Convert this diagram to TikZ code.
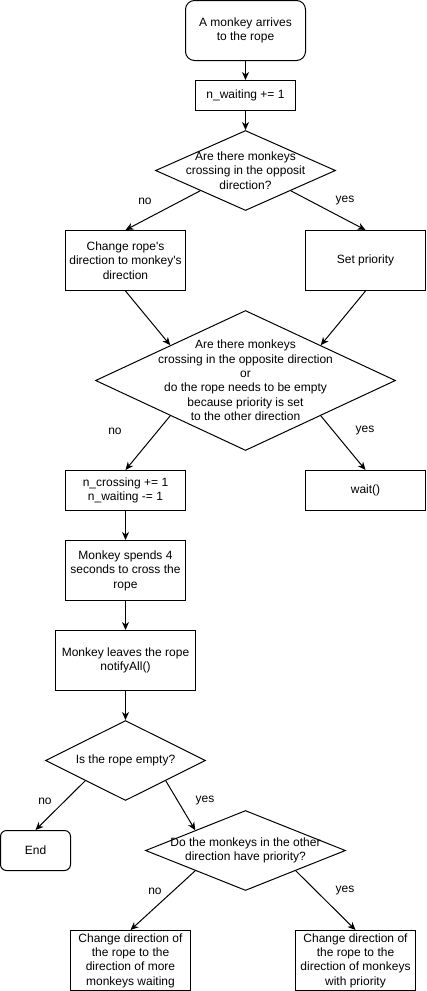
\documentclass[tikz,border=0pt]{standalone}
\usepackage{fontspec}
\setmainfont{Liberation Sans}[Ligatures=TeXOff]
\usetikzlibrary{shapes, positioning, arrows.meta, calc}

\tikzset{
  process/.style={draw, rectangle, minimum width=120pt, minimum height=60pt, align=center, inner xsep=2pt, inner ysep=0pt},
  terminal/.style={process, rounded corners=9pt},
  decision/.style={draw, diamond, inner sep=0pt},
  answer/.style={inner sep=0pt},
}

\begin{document}
\begin{tikzpicture}[x=1pt, y=-1pt, line width=1pt, >={Stealth[length=8pt, width=7pt, inset=2.5pt]}, font=\fontsize{12}{14.4}\selectfont]
\useasboundingbox (0,0) rectangle (426,991);
\node (start) at (245.5,30.5) [terminal] {A monkey arrives\\to the rope};
\node (inc) at (245.5,95.5) [process, minimum width=100pt, minimum height=30pt] {n\_waiting += 1};
\node (q1) at (245.5,170.5) [decision, minimum width=180pt, minimum height=80pt] {};
\node (q1t) at (q1) [align=center] {Are there monkeys\\crossing in the opposit\\direction?};
\node (chg) at (125.5,260.5) [process] {Change rope's\\direction to monkey's\\direction};
\node (prio) at (365.5,260.5) [process] {Set priority};
\node (q2) at (245.5,380.5) [decision, minimum width=300pt, minimum height=140pt] {};
\node (q2t) at (q2) [align=center] {Are there monkeys\\crossing in the opposite direction\\or\\do the rope needs to be empty\\because priority is set\\to the other direction};
\node (cross) at (125.5,490.5) [process, minimum height=40pt] {n\_crossing += 1\\n\_waiting -= 1};
\node (wait) at (365.5,490.5) [process, minimum height=40pt] {wait()};
\node (spend) at (125.5,570.5) [process] {Monkey spends 4\\seconds to cross the\\rope};
\node (leave) at (125.5,660.5) [process, minimum width=140pt] {Monkey leaves the rope\\notifyAll()};
\node (q3) at (125.5,760.5) [decision, minimum width=160pt, minimum height=80pt] {};
\node (q3t) at (q3) {Is the rope empty?};
\node (done) at (35.5,850.5) [terminal, minimum width=70pt, minimum height=40pt, rounded corners=6pt] {End};
\node (q4) at (245.5,850.5) [decision, minimum width=200pt, minimum height=80pt] {};
\node (q4t) at (q4) [align=center] {Do the monkeys in the other\\direction have priority?};
\node (more) at (130.5,960.5) [process] {Change direction of\\the rope to the\\direction of more\\monkeys waiting};
\node (withp) at (355.5,960.5) [process] {Change direction of\\the rope to the\\direction of monkeys\\with priority};
% answers
\node (no1) at (145,201) [answer] {no};
\node (yes1) at (345,201) [answer] {yes};
\node (no2) at (115,431) [answer] {no};
\node (yes2) at (365,431) [answer] {yes};
\node (no3) at (45,801) [answer] {no};
\node (yes3) at (205,801) [answer] {yes};
\node (no4) at (155,891) [answer] {no};
\node (yes4) at (345,891) [answer] {yes};
% connectors
\draw [->] (start.south) -- (inc.north);
\draw [->] (inc.south) -- (q1.north);
\draw [->] ($(q1.west)!0.5!(q1.south)$) -- (chg.north);
\draw [->] ($(q1.east)!0.5!(q1.south)$) -- (prio.north);
\draw [->] (chg.south) -- ($(q2.west)!0.5!(q2.north)$);
\draw [->] (prio.south) -- ($(q2.east)!0.5!(q2.north)$);
\draw [->] ($(q2.west)!0.5!(q2.south)$) -- (cross.north);
\draw [->] ($(q2.east)!0.5!(q2.south)$) -- (wait.north);
\draw [->] (cross.south) -- (spend.north);
\draw [->] (spend.south) -- (leave.north);
\draw [->] (leave.south) -- (q3.north);
\draw [->] ($(q3.west)!0.5!(q3.south)$) -- (done.north);
\draw [->] ($(q3.east)!0.5!(q3.south)$) -- ($(q4.west)!0.5!(q4.north)$);
\draw [->] ($(q4.west)!0.5!(q4.south)$) -- (more.north);
\draw [->] ($(q4.east)!0.5!(q4.south)$) -- (withp.north);
\end{tikzpicture}
\end{document}
